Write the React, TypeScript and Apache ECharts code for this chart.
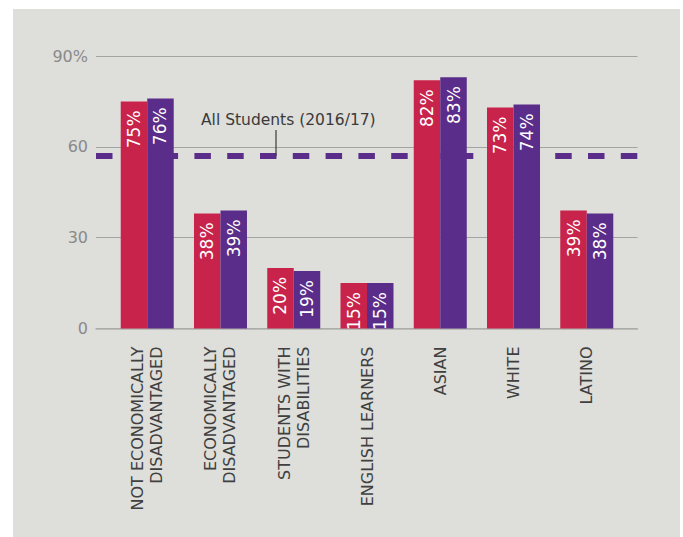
import React, { useEffect, useRef } from "react";
import * as echarts from "echarts";

const categories = [
  "NOT ECONOMICALLY\nDISADVANTAGED",
  "ECONOMICALLY\nDISADVANTAGED",
  "STUDENTS WITH\nDISABILITIES",
  "ENGLISH LEARNERS",
  "ASIAN",
  "WHITE",
  "LATINO",
];
const seriesEarlier = [75, 38, 20, 15, 82, 73, 39];
const seriesLater = [76, 39, 19, 15, 83, 74, 38];
const allStudentsValue = 57;
const allStudentsLabel = "All Students (2016/17)";
const yTicks = [0, 30, 60, 90];

const RED = "#c8234a";
const PURPLE = "#5b2d8a";
const FONT = "DejaVu Sans";

export default function App() {
  const ref = useRef<HTMLDivElement>(null);
  useEffect(() => {
    document.body.style.margin = "0";
    const chart = echarts.init(ref.current!, null, { renderer: "svg" });
    const gridTop = 56;
    const gridBottom = 208.5;
    const barLabel = {
      show: true,
      position: "insideTop",
      rotate: 90,
      align: "right",
      verticalAlign: "middle",
      distance: 9,
      color: "#ffffff",
      fontSize: 17,
      fontFamily: FONT,
      formatter: (p: any) => p.value + "%",
    };
    chart.setOption({
      animation: false,
      backgroundColor: "#ffffff",
      grid: [
        { left: 96, right: 45.5, top: gridTop, bottom: gridBottom },
        { left: 110.6, right: 59.6, top: gridTop, bottom: gridBottom },
      ],
      xAxis: [
        {
          gridIndex: 0,
          type: "value",
          min: 0,
          max: 1,
          axisLine: { show: true, lineStyle: { color: "#b0b0ad", width: 1.5 } },
          axisTick: { show: false },
          axisLabel: { show: false },
          splitLine: { show: false },
        },
        {
          gridIndex: 1,
          type: "category",
          data: categories,
          axisLine: { show: false },
          axisTick: { show: false },
          axisLabel: {
            rotate: 90,
            margin: 18,
            color: "#404040",
            fontSize: 16,
            lineHeight: 19,
            fontFamily: FONT,
            interval: 0,
          },
        },
      ],
      yAxis: [
        {
          gridIndex: 0,
          type: "value",
          min: 0,
          max: 90,
          interval: 30,
          axisLine: { show: false },
          axisTick: { show: false },
          axisLabel: {
            margin: 8,
            color: "#8a8a8a",
            fontSize: 16,
            fontFamily: FONT,
            formatter: (v: number) => (v === yTicks[yTicks.length - 1] ? v + "%" : String(v)),
          },
          splitLine: { lineStyle: { color: "#a3a3a3", width: 1 } },
        },
        {
          gridIndex: 1,
          type: "value",
          min: 0,
          max: 90,
          interval: 30,
          show: false,
        },
      ],
      series: [
        {
          type: "line",
          xAxisIndex: 0,
          yAxisIndex: 0,
          data: [
            [0, allStudentsValue],
            [1, allStudentsValue],
          ],
          symbol: "none",
          z: 1,
          lineStyle: { color: PURPLE, width: 6, type: [16.5, 16.3], cap: "butt" },
        },
        {
          type: "bar",
          xAxisIndex: 1,
          yAxisIndex: 1,
          data: seriesEarlier,
          barWidth: 26.5,
          barGap: "0%",
          z: 3,
          itemStyle: { color: RED },
          label: barLabel,
        },
        {
          type: "bar",
          xAxisIndex: 1,
          yAxisIndex: 1,
          data: seriesLater,
          barWidth: 26.5,
          barGap: "0%",
          z: 3,
          itemStyle: { color: PURPLE },
          label: barLabel,
        },
      ],
    });
    const lineY = chart.convertToPixel({ gridIndex: 0 }, [0.333, allStudentsValue])[1];
    chart.setOption({
      graphic: [
        {
          type: "rect",
          z: -10,
          silent: true,
          shape: { x: 13, y: 9, width: 667, height: 528 },
          style: { fill: "#dededa" },
        },
        {
          type: "text",
          z: 10,
          x: 201,
          y: 112,
          style: {
            text: allStudentsLabel,
            fill: "#3a3a3a",
            fontSize: 15.5,
            fontFamily: FONT,
          },
        },
        {
          type: "line",
          z: 10,
          shape: { x1: 276, y1: 130, x2: 276, y2: lineY },
          style: { stroke: "#3a3a3a", lineWidth: 1.2 },
        },
      ],
    });
    return () => chart.dispose();
  }, []);
  return <div ref={ref} style={{ width: 683, height: 537 }} />;
}
